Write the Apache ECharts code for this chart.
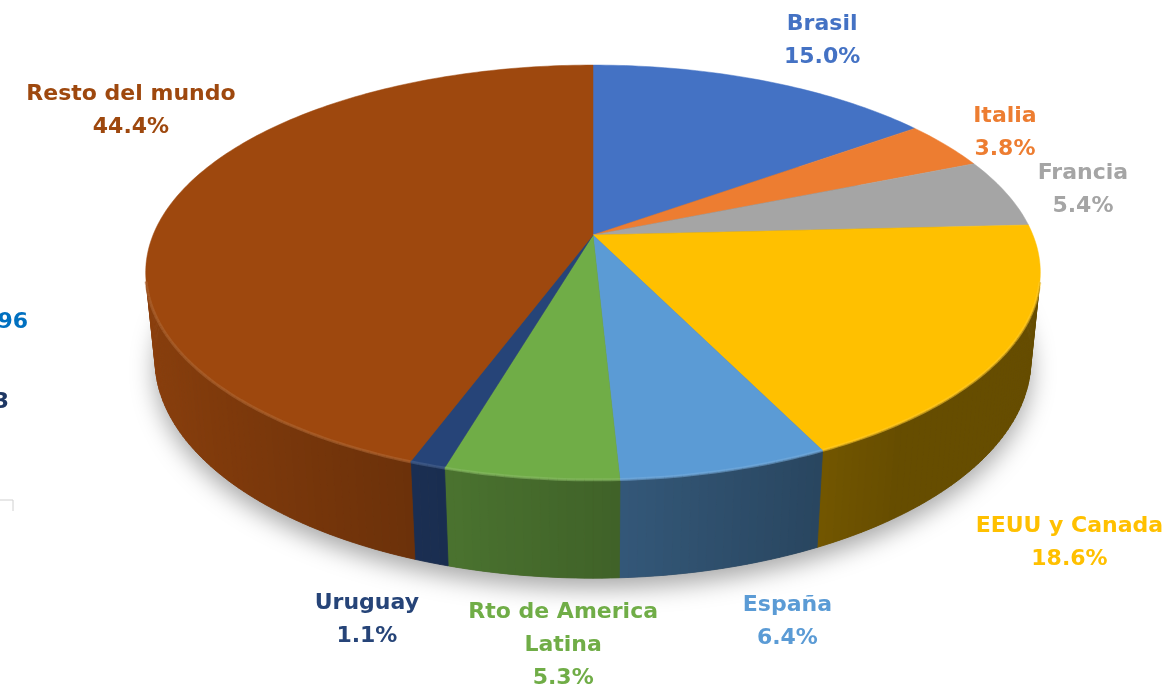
<!DOCTYPE html>
<html>
<head>
<meta charset="utf-8">
<title>Destinos - participación</title>
<style>
  html, body { margin: 0; padding: 0; background: #ffffff; }
  #main { width: 1176px; height: 688px; }
</style>
</head>
<body>
<div id="main"></div>
<script src="https://cdn.jsdelivr.net/npm/echarts@6/dist/echarts.min.js"></script>
<script>
var categories = ['Brasil', 'Italia', 'Francia', 'EEUU y Canada', 'España', 'Rto de America Latina', 'Uruguay', 'Resto del mundo'];
var shares = [15.0, 3.8, 5.4, 18.6, 6.4, 5.3, 1.1, 44.4];
var labelNames = ['Brasil', 'Italia', 'Francia', 'EEUU y Canada', 'España', 'Rto de America\nLatina', 'Uruguay', 'Resto del mundo'];
var colors = ['#4472C4', '#ED7D31', '#A5A5A5', '#FFC000', '#5B9BD5', '#70AD47', '#264478', '#9E480E'];
// where each label sits on the pie plane: [angle in degrees, radius]
var labelSpots = [[28.3, 1.331], [61.5, 1.173], [78.6, 1.184], [144.8, 1.471], [167.1, 1.468], [181.9, 1.494], [195, 1.475], [300.5, 1.372]];

// camera for the tilted pie
var view = { cx: 593, cy: 235, F: 2169, D: 4.93, tilt: 27.13 * Math.PI / 180, depth: 0.224 };
var FONT = '"DejaVu Sans", sans-serif';

var total = shares.reduce(function (a, b) { return a + b; }, 0);
var starts = [];
var acc = 0;
shares.forEach(function (v) { starts.push(acc / total * Math.PI * 2); acc += v; });

function project(phi, r, Y) {
  var s = Math.sin(view.tilt), c = Math.cos(view.tilt);
  var X = r * Math.sin(phi), Z = -r * Math.cos(phi);
  var d = view.D - Y * s - Z * c;
  return [view.cx + view.F * X / d, view.cy - view.F * (Y * c - Z * s) / d];
}

function shade(hex, f) {
  var n = parseInt(hex.slice(1), 16);
  var r = (n >> 16) & 255, g = (n >> 8) & 255, b = n & 255;
  function ch(x) {
    var v = f <= 1 ? x * f : x + (255 - x) * (f - 1);
    return Math.max(0, Math.min(255, Math.round(v)));
  }
  return 'rgb(' + ch(r) + ',' + ch(g) + ',' + ch(b) + ')';
}

function renderItem(params, api) {
  var i = params.dataIndex;
  var a0 = starts[i];
  var a1 = a0 + api.value(0) / total * Math.PI * 2;
  var steps = Math.max(3, Math.ceil((a1 - a0) / (Math.PI / 180)));
  var children = [];
  var h = view.depth;

  if (i === 0) {
    var base = [];
    for (var b = 0; b <= 360; b += 2) base.push(project(b * Math.PI / 180, 1, -h));
    children.push({
      type: 'polygon', z2: 0, shape: { points: base },
      style: { fill: '#6b5a4a', shadowBlur: 24, shadowColor: 'rgba(0,0,0,0.35)', shadowOffsetY: 10 }
    });
  }

  var top = [[view.cx, view.cy]];
  for (var k = 0; k <= steps; k++) {
    var phi = a0 + (a1 - a0) * k / steps;
    top.push(project(phi, 1, 0));
  }
  children.push({ type: 'polygon', z2: 10, shape: { points: top }, style: { fill: colors[i], stroke: colors[i], lineWidth: 0.5 } });

  for (var k2 = 0; k2 < steps; k2++) {
    var pa = a0 + (a1 - a0) * k2 / steps;
    var pb = a0 + (a1 - a0) * (k2 + 1) / steps;
    var p1 = project(pa, 1, 0), p2 = project(pb, 1, 0);
    var q2 = project(pb, 1, -h), q1 = project(pa, 1, -h);
    var cross = (p2[0] - p1[0]) * (q2[1] - p2[1]) - (p2[1] - p1[1]) * (q2[0] - p2[0]);
    if (cross >= 0) continue;
    var mid = (pa + pb) / 2;
    var f = Math.max(0.4, 0.58 - 0.3 * Math.sin(mid));
    var col = shade(colors[i], f);
    children.push({ type: 'polygon', z2: 2, shape: { points: [p1, p2, q2, q1] }, style: { fill: col, stroke: col, lineWidth: 0.8 } });
    children.push({ type: 'polyline', z2: 11, shape: { points: [p1, p2] }, style: { stroke: shade(colors[i], 1.18), lineWidth: 3, opacity: 0.55 } });
  }

  var spot = labelSpots[i];
  var lp = project(spot[0] * Math.PI / 180, spot[1], 0);
  children.push({
    type: 'text', z2: 30,
    style: {
      text: labelNames[i] + '\n' + api.value(0).toFixed(1) + '%',
      x: lp[0], y: lp[1],
      fill: colors[i],
      fontFamily: FONT, fontSize: 22, fontWeight: 'bold',
      lineHeight: 33, align: 'center', verticalAlign: 'middle'
    }
  });

  return { type: 'group', children: children };
}

var myChart = echarts.init(document.getElementById('main'));
var option = {
  animation: false,
  backgroundColor: '#ffffff',
  graphic: [
    { type: 'text', style: { text: '1.696', x: 28, y: 322, align: 'right', verticalAlign: 'middle', fill: '#0070C0', fontFamily: FONT, fontSize: 22, fontWeight: 'bold' } },
    { type: 'text', style: { text: '3', x: 9, y: 402, align: 'right', verticalAlign: 'middle', fill: '#1F3864', fontFamily: FONT, fontSize: 22, fontWeight: 'bold' } },
    { type: 'polyline', shape: { points: [[0, 500], [13, 500], [13, 511]] }, style: { stroke: '#d0d0d0', lineWidth: 1, fill: null } }
  ],
  series: [{
    type: 'custom',
    coordinateSystem: 'none',
    renderItem: renderItem,
    data: shares.map(function (v, i) { return { name: categories[i], value: [v] }; })
  }]
};
myChart.setOption(option);
</script>
</body>
</html>
